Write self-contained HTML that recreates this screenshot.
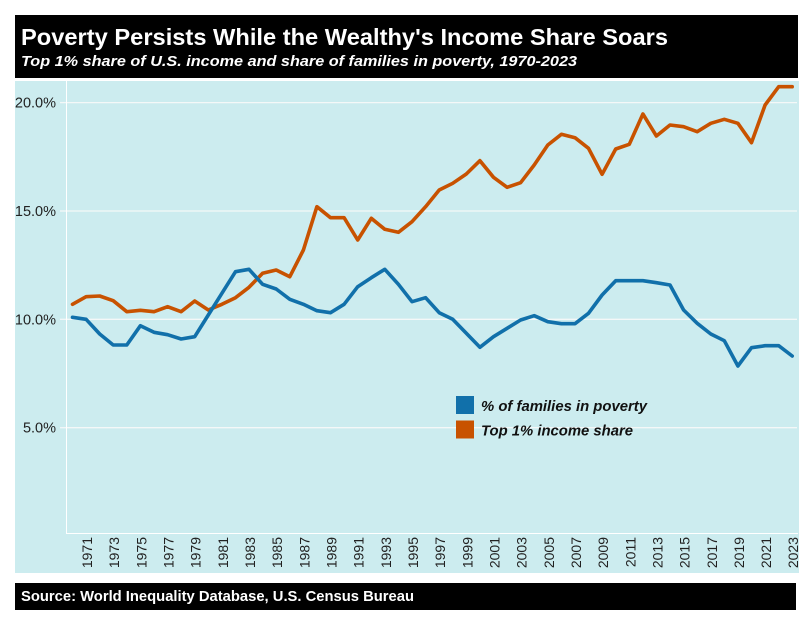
<!DOCTYPE html>
<html><head><meta charset="utf-8"><style>
html,body{margin:0;padding:0;background:#fff;}
svg{display:block;}
text{font-family:"Liberation Sans",Arial,sans-serif;}
</style></head><body>
<svg width="811" height="624" viewBox="0 0 811 624" xmlns="http://www.w3.org/2000/svg">
<rect x="0" y="0" width="811" height="624" fill="#ffffff"/>
<rect x="15" y="15" width="783" height="63" fill="#000"/>
<text x="21" y="45" font-size="23" font-weight="bold" fill="#fff" textLength="647" lengthAdjust="spacingAndGlyphs">Poverty Persists While the Wealthy's Income Share Soars</text>
<text x="21" y="66" font-size="15" font-weight="bold" font-style="italic" fill="#fff" textLength="556" lengthAdjust="spacingAndGlyphs">Top 1% share of U.S. income and share of families in poverty, 1970-2023</text>
<rect x="15" y="81" width="784" height="492" fill="#ccecef"/>
<g stroke="#f4f8f8" stroke-width="1.3">
<line x1="66" y1="102.6" x2="797" y2="102.6"/>
<line x1="66" y1="211" x2="797" y2="211"/>
<line x1="66" y1="319.3" x2="797" y2="319.3"/>
<line x1="66" y1="427.7" x2="797" y2="427.7"/>
<line x1="60" y1="102.6" x2="66" y2="102.6"/>
<line x1="60" y1="211" x2="66" y2="211"/>
<line x1="60" y1="319.3" x2="66" y2="319.3"/>
<line x1="60" y1="427.7" x2="66" y2="427.7"/>
</g>
<line x1="66.5" y1="81" x2="66.5" y2="534" stroke="#fff" stroke-width="1"/>
<line x1="66" y1="533.5" x2="798" y2="533.5" stroke="#fff" stroke-width="1"/>
<g font-size="14.5" fill="#222" text-anchor="end">
<text x="56" y="107.6">20.0%</text>
<text x="56" y="216">15.0%</text>
<text x="56" y="324.3">10.0%</text>
<text x="56" y="432.7">5.0%</text>
</g>
<g font-size="14" fill="#222" text-anchor="end">
<text transform="translate(92.1,537) rotate(-90)">1971</text>
<text transform="translate(119.2,537) rotate(-90)">1973</text>
<text transform="translate(146.4,537) rotate(-90)">1975</text>
<text transform="translate(173.6,537) rotate(-90)">1977</text>
<text transform="translate(200.7,537) rotate(-90)">1979</text>
<text transform="translate(227.9,537) rotate(-90)">1981</text>
<text transform="translate(255,537) rotate(-90)">1983</text>
<text transform="translate(282.2,537) rotate(-90)">1985</text>
<text transform="translate(309.4,537) rotate(-90)">1987</text>
<text transform="translate(336.5,537) rotate(-90)">1989</text>
<text transform="translate(363.7,537) rotate(-90)">1991</text>
<text transform="translate(390.8,537) rotate(-90)">1993</text>
<text transform="translate(418,537) rotate(-90)">1995</text>
<text transform="translate(445.2,537) rotate(-90)">1997</text>
<text transform="translate(472.3,537) rotate(-90)">1999</text>
<text transform="translate(499.5,537) rotate(-90)">2001</text>
<text transform="translate(526.6,537) rotate(-90)">2003</text>
<text transform="translate(553.8,537) rotate(-90)">2005</text>
<text transform="translate(581,537) rotate(-90)">2007</text>
<text transform="translate(608.1,537) rotate(-90)">2009</text>
<text transform="translate(635.3,537) rotate(-90)">2011</text>
<text transform="translate(662.4,537) rotate(-90)">2013</text>
<text transform="translate(689.6,537) rotate(-90)">2015</text>
<text transform="translate(716.8,537) rotate(-90)">2017</text>
<text transform="translate(743.9,537) rotate(-90)">2019</text>
<text transform="translate(771.1,537) rotate(-90)">2021</text>
<text transform="translate(798.2,537) rotate(-90)">2023</text>
</g>
<polyline fill="none" stroke="#c85200" stroke-width="3.6" stroke-linejoin="round" stroke-linecap="round" points="72.5,304.3 86.1,296.7 99.7,296 113.2,300.7 126.8,311.7 140.4,310.3 154,311.7 167.6,306.7 181.1,311.7 194.7,301 208.3,310 221.9,304.3 235.5,297.7 249,287.3 262.6,273.3 276.2,270 289.8,276.7 303.4,250 316.9,206.7 330.5,217.7 344.1,217.7 357.7,240 371.3,218.3 384.8,229.3 398.4,232.3 412,221.7 425.6,206.7 439.2,190 452.7,183.3 466.3,174 479.9,160.7 493.5,177.3 507.1,187.3 520.6,182.7 534.2,165 547.8,145 561.4,134.3 575,137.7 588.5,148.3 602.1,174.3 615.7,149 629.3,144.3 642.9,114 656.4,136 670,125 683.6,126.7 697.2,131.7 710.8,123.3 724.3,119.3 737.9,123.3 751.5,142.7 765.1,105 778.7,86.7 792.2,86.7"/>
<polyline fill="none" stroke="#1170aa" stroke-width="3.6" stroke-linejoin="round" stroke-linecap="round" points="72.5,317.3 86.1,319.3 99.7,334 113.2,345 126.8,345 140.4,325.7 154,332.3 167.6,334.7 181.1,339 194.7,336.7 208.3,315 221.9,293.3 235.5,271.7 249,269.3 262.6,284.3 276.2,289 289.8,299.3 303.4,304.3 316.9,310.7 330.5,312.7 344.1,304.3 357.7,286.7 371.3,277.7 384.8,269.3 398.4,284.3 412,301.7 425.6,297.7 439.2,312.7 452.7,319.3 466.3,333.3 479.9,347.3 493.5,336.7 507.1,328.3 520.6,320 534.2,315.7 547.8,321.7 561.4,323.7 575,323.7 588.5,313.3 602.1,295 615.7,280.7 629.3,280.7 642.9,280.7 656.4,282.7 670,285 683.6,310 697.2,323.3 710.8,334 724.3,340.7 737.9,366 751.5,347.7 765.1,345.7 778.7,345.7 792.2,356"/>
<rect x="456" y="396" width="18" height="18" fill="#1170aa"/>
<rect x="456" y="420.5" width="18" height="18" fill="#c85200"/>
<g font-size="15" font-weight="bold" font-style="italic" fill="#111">
<text x="481" y="411" textLength="166" lengthAdjust="spacingAndGlyphs">% of families in poverty</text>
<text x="481" y="435.5" textLength="152" lengthAdjust="spacingAndGlyphs">Top 1% income share</text>
</g>
<rect x="15" y="583" width="781" height="27" fill="#000"/>
<text x="21" y="601" font-size="15" font-weight="bold" fill="#fff" textLength="393" lengthAdjust="spacingAndGlyphs">Source: World Inequality Database, U.S. Census Bureau</text>
</svg>
</body></html>
